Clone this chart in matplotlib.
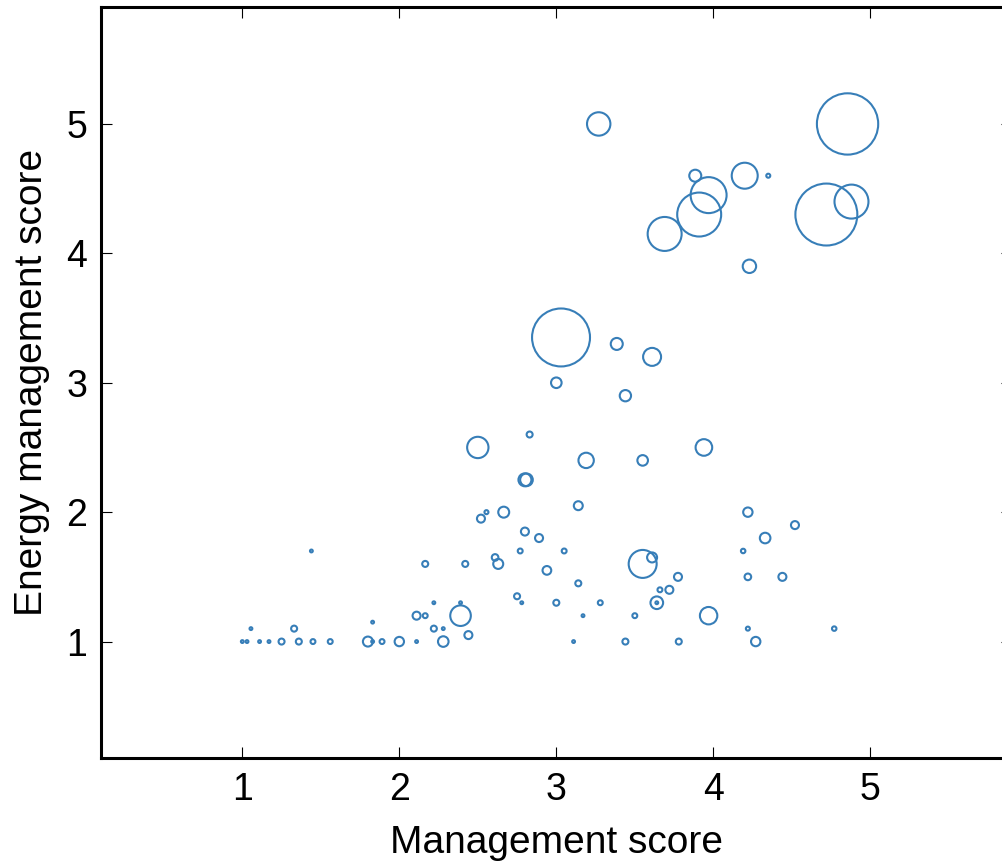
import matplotlib

matplotlib.use("Agg")
import matplotlib.pyplot as plt
import numpy as np

# management score, energy management score, bubble weight (number of firms)
mgmt = [
    1.00, 1.03, 1.11, 1.17, 1.25, 1.36, 1.45, 1.56, 1.80, 1.83, 1.89, 2.00, 2.11, 2.28,
    3.11, 3.44, 3.78, 4.27, 1.055, 1.33, 2.22, 2.28, 2.44, 2.39, 2.39, 2.11, 2.165, 2.22,
    1.83, 1.44, 2.165, 2.42, 2.52, 2.555, 2.61, 2.63, 2.665, 2.83, 3.19, 2.80, 2.81, 3.14,
    2.80, 2.89, 2.77, 3.05, 3.55, 2.50, 2.94, 3.14, 2.75, 2.78, 3.00, 3.28, 3.17, 3.50,
    3.55, 3.61, 3.66, 3.72, 3.64, 3.64, 3.775, 3.97, 4.22, 4.33, 4.19, 4.22, 4.22, 4.52,
    4.44, 4.77, 3.03, 3.385, 3.61, 3.00, 3.44, 3.94, 3.27, 4.855, 3.885, 3.97, 4.20, 4.35,
    3.91, 3.69, 4.72, 4.88, 4.23,
]
energy = [
    1.00, 1.00, 1.00, 1.00, 1.00, 1.00, 1.00, 1.00, 1.00, 1.00, 1.00, 1.00, 1.00, 1.00,
    1.00, 1.00, 1.00, 1.00, 1.10, 1.10, 1.10, 1.10, 1.05, 1.20, 1.30, 1.20, 1.20, 1.30,
    1.15, 1.70, 1.60, 1.60, 1.95, 2.00, 1.65, 1.60, 2.00, 2.60, 2.40, 2.25, 2.25, 2.05,
    1.85, 1.80, 1.70, 1.70, 2.40, 2.50, 1.55, 1.45, 1.35, 1.30, 1.30, 1.30, 1.20, 1.20,
    1.60, 1.65, 1.40, 1.40, 1.30, 1.30, 1.50, 1.20, 2.00, 1.80, 1.70, 1.50, 1.10, 1.90,
    1.50, 1.10, 3.35, 3.30, 3.20, 3.00, 2.90, 2.50, 5.00, 5.00, 4.60, 4.45, 4.60, 4.60,
    4.30, 4.15, 4.30, 4.40, 3.90,
]
firms = [
    2, 2, 2, 2, 9, 9, 6, 6, 25, 2, 6, 22, 2, 28,
    2, 9, 9, 22, 2, 9, 9, 2, 16, 106, 2, 16, 6, 2,
    2, 2, 9, 9, 16, 4, 11, 25, 30, 9, 59, 42, 40, 20,
    16, 16, 6, 6, 28, 114, 19, 9, 9, 2, 9, 6, 2, 6,
    196, 25, 6, 16, 40, 2, 16, 76, 22, 28, 5, 11, 4, 16,
    16, 5, 841, 36, 81, 28, 32, 69, 137, 941, 36, 324, 169, 4,
    484, 289, 961, 289, 45,
]

plt.rcParams.update({"font.family": ["Liberation Sans", "DejaVu Sans"], "font.size": 27})

fig = plt.figure(figsize=(10.03, 8.61), dpi=100)
ax = fig.add_axes([0.1007, 0.1196, 0.9079, 0.8717])

ax.scatter(mgmt, energy, s=np.array(firms) * 2.07, facecolors="none",
           edgecolors="#377eb8", linewidths=1.5)

ax.set_xlim(0.1, 5.9)
ax.set_ylim(0.1, 5.9)
ax.set_xticks([1, 2, 3, 4, 5])
ax.set_yticks([1, 2, 3, 4, 5])
ax.tick_params(direction="in", length=8, width=0.8, top=True, right=True, pad=10)
for sp in ax.spines.values():
    sp.set_linewidth(2.2)
ax.spines["right"].set_visible(False)

ax.set_xlabel("Management score", fontsize=28, labelpad=12)
ax.set_ylabel("Energy management score", fontsize=28, labelpad=12)

fig.savefig("out.png", dpi=100)
